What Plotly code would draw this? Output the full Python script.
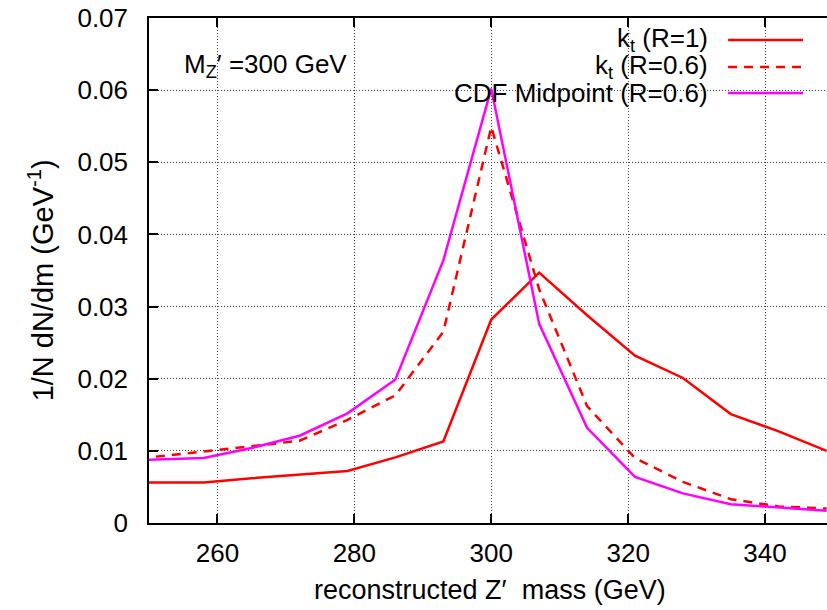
import plotly.graph_objects as go

# ---- data ----
mass = [244, 251, 258, 265, 272, 279, 286, 293, 300, 307, 314, 321, 328, 335, 342, 349]
kt_r1 = [0.0056, 0.0056, 0.0056, 0.0062, 0.0067, 0.0072, 0.0091, 0.0113, 0.0282, 0.0347,
         0.0288, 0.0232, 0.0201, 0.0151, 0.0127, 0.0100]
kt_r06 = [0.0089, 0.0092, 0.0099, 0.0106, 0.0114, 0.0143, 0.0177, 0.0265, 0.0549, 0.0324,
          0.0162, 0.0090, 0.0057, 0.0033, 0.0023, 0.0020]
cdf_mp = [0.0086, 0.0088, 0.0090, 0.0104, 0.0121, 0.0152, 0.0199, 0.0364, 0.0602, 0.0276,
          0.0132, 0.0064, 0.0041, 0.0026, 0.0021, 0.0017]

series_names = ["k<sub>t</sub> (R=1)", "k<sub>t</sub> (R=0.6)", "CDF Midpoint (R=0.6)"]
x_ticks = [260, 280, 300, 320, 340]
y_ticks = [0, 0.01, 0.02, 0.03, 0.04, 0.05, 0.06, 0.07]
y_tick_text = ["0", "0.01", "0.02", "0.03", "0.04", "0.05", "0.06", "0.07"]

FONT = "Liberation Sans, Arial, sans-serif"
FS = 26
W, H = 827, 610
L, R, T, B = 148.5, 0, 18, 86.5

def px2paper(px, py):
    return (px - L) / (W - L - R), (H - B - py) / (H - T - B)

styles = [
    dict(color="#ff0000", width=2.5, dash="solid"),
    dict(color="#ff0000", width=2.5, dash="9px,7px"),
    dict(color="#ff00ff", width=2.5, dash="solid"),
]

fig = go.Figure()
for ys, name, st in zip([kt_r1, kt_r06, cdf_mp], series_names, styles):
    fig.add_trace(go.Scatter(x=mass, y=ys, mode="lines", name=name, line=st,
                             showlegend=False, cliponaxis=True))

# manual gnuplot-style legend (text then sample)
row_y = [40, 67, 93]
for name, st, ry in zip(series_names, styles, row_y):
    tx, ty = px2paper(710, ry)
    fig.add_annotation(x=tx, y=ty, xref="paper", yref="paper", text=name,
                       showarrow=False, xanchor="right", yanchor="middle",
                       font=dict(family=FONT, size=FS, color="black"))
    x0, y0 = px2paper(728, ry)
    x1, _ = px2paper(803, ry)
    fig.add_shape(type="line", xref="paper", yref="paper", x0=x0, x1=x1, y0=y0, y1=y0,
                  line=st)

# M_Z' label
mx, my = px2paper(182, 66)
fig.add_annotation(x=mx, y=my, xref="paper", yref="paper",
                   text="M<sub>Z</sub>\u2032 =300 GeV", showarrow=False,
                   xanchor="left", yanchor="middle",
                   font=dict(family=FONT, size=FS, color="black"))

# axis titles
ax_, ay_ = px2paper(40, 281)
fig.add_annotation(x=ax_, y=ay_, xref="paper", yref="paper",
                   text="1/N dN/dm (GeV<sup>-1</sup>)", textangle=-90, showarrow=False,
                   xanchor="center", yanchor="middle",
                   font=dict(family=FONT, size=29, color="black"))
bx, by = px2paper(490, 591)
fig.add_annotation(x=bx, y=by, xref="paper", yref="paper",
                   text="reconstructed Z\u2032  mass (GeV)", showarrow=False,
                   xanchor="center", yanchor="middle",
                   font=dict(family=FONT, size=27, color="black"))

grid = dict(showgrid=True, gridcolor="#444444", griddash="1px,2px", gridwidth=1)
fig.update_xaxes(range=[250, 349.05], tickvals=x_ticks, ticks="inside", ticklen=9,
                 tickwidth=1.5, tickcolor="black", showline=True, linecolor="black",
                 linewidth=1.5, mirror="ticks", zeroline=False, automargin=False,
                 tickfont=dict(family=FONT, size=FS, color="black"),
                 ticklabelstandoff=6, **grid)
fig.update_yaxes(range=[0, 0.07], tickvals=y_ticks, ticktext=y_tick_text, ticks="inside",
                 ticklen=9, tickwidth=1.5, tickcolor="black", showline=True,
                 linecolor="black", linewidth=1.5, mirror=False, zeroline=False,
                 automargin=False,
                 tickfont=dict(family=FONT, size=FS, color="black"),
                 ticklabelstandoff=14, **grid)

fig.update_layout(width=W, height=H, margin=dict(l=L, r=R, t=T, b=B, pad=0),
                  plot_bgcolor="white", paper_bgcolor="white", showlegend=False)

fig.write_html("out.html", config={"displayModeBar": False},
               post_script="document.body.style.margin='0';"
                           "document.body.style.overflow='hidden';")
